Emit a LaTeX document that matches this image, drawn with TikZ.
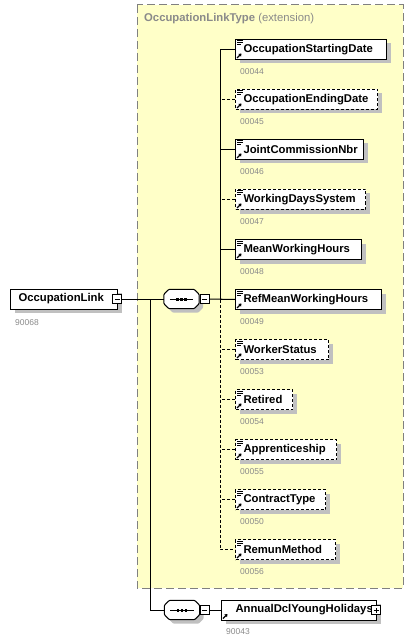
\documentclass[tikz,border=0pt]{standalone}
\usepackage{fontspec}
\setmainfont{Liberation Sans}
\usetikzlibrary{shadows,arrows.meta}

\definecolor{typeyellow}{HTML}{FFFFC8}
\definecolor{shadowgrey}{HTML}{C0C0C0}
\definecolor{idgrey}{HTML}{8A8A8A}

% small marks drawn inside the element boxes
\newcommand{\docmark}{%
  \draw[solid,line width=1pt]
    ([shift={(1.5pt,-1.5pt)}]path picture bounding box.north west) -- ++(6pt,0pt)
    ([shift={(1.5pt,-3.5pt)}]path picture bounding box.north west) -- ++(6pt,0pt)
    ([shift={(1.5pt,-5.5pt)}]path picture bounding box.north west) -- ++(4pt,0pt);}
\newcommand{\refmark}{%
  \draw[solid,line width=1.2pt,-{Triangle[length=2.5pt,width=3.5pt]}]
    ([shift={(1.5pt,1.5pt)}]path picture bounding box.south west) -- ++(4.5pt,4.5pt);}

% octagon of a sequence, drawn round an empty node (#2 shifts it, for the shadow)
\newcommand{\octpath}[2]{([shift={#2},xshift=5pt]#1.north west) -- ([shift={#2},xshift=-5pt]#1.north east)
  -- ([shift={#2},yshift=-5pt]#1.north east) -- ([shift={#2},yshift=5pt]#1.south east)
  -- ([shift={#2},xshift=-5pt]#1.south east) -- ([shift={#2},xshift=5pt]#1.south west)
  -- ([shift={#2},yshift=5pt]#1.south west) -- ([shift={#2},yshift=-5pt]#1.north west) -- cycle}
\newcommand{\seqmark}[1]{%
  \fill[shadowgrey, rounded corners=1pt] \octpath{#1}{(4pt,-4pt)};
  \filldraw[fill=white, line width=1pt, rounded corners=1pt] \octpath{#1}{(0pt,0pt)};
  \draw[line width=1pt] ([xshift=6pt]#1.west) -- ([xshift=-6pt]#1.east);
  \foreach \d in {-4,0,4}
    \fill ([xshift=\d pt-1.25pt, yshift=-1.5pt]#1.center) rectangle ++(2.5pt,3pt);}

\tikzset{
  elembox/.style={draw, fill=white, line width=1pt,
    general shadow={fill=shadowgrey, shadow xshift=4pt, shadow yshift=-4pt},
    minimum height=20pt, inner xsep=0pt, inner ysep=0pt, anchor=west,
    text width=#1, align=left, font=\fontsize{11.3}{13}\selectfont\bfseries,
    execute at begin node={\hspace*{8pt}}},
  elem/.style={elembox=#1, path picture={\docmark\refmark}},
  optelem/.style={elem=#1, dash pattern=on 3pt off 2pt},
  annelem/.style={elembox=#1, execute at begin node={\hspace*{6pt}}, path picture={\refmark}},
  idnum/.style={anchor=west, inner sep=0pt, text=idgrey, font=\fontsize{8.5}{10}\selectfont},
  seq/.style={minimum width=35pt, minimum height=19pt, inner sep=0pt},
  minusbox/.style={draw, fill=white, line width=1pt, minimum size=9pt, inner sep=0pt,
    path picture={\draw[line width=1pt] ([xshift=2pt]path picture bounding box.west)
      -- ([xshift=-2pt]path picture bounding box.east);}},
  plusbox/.style={minusbox, path picture={
      \draw[line width=1pt] ([xshift=2pt]path picture bounding box.west)
        -- ([xshift=-2pt]path picture bounding box.east)
        ([yshift=2pt]path picture bounding box.south) -- ([yshift=-2pt]path picture bounding box.north);}},
  link/.style={line width=1pt},
  optlink/.style={line width=1pt, dash pattern=on 3pt off 2pt},
  typebox/.style={draw=gray, fill=typeyellow, line width=1pt, dash pattern=on 8pt off 4pt}
}

\begin{document}
\begin{tikzpicture}[x=1pt,y=-1pt]

    \useasboundingbox (0,0) rectangle (417,644);

    \draw[typebox] (137,5) rectangle (403,588);
    \node[anchor=west, inner sep=0pt, text=idgrey, font=\fontsize{11.3}{13}\selectfont] (title) at (144,19)
      {\textbf{OccupationLinkType} (extension)};

    \node[elembox=107pt] (root) at (10,299) {OccupationLink};
    \node[idnum] (rootid) at (15,323) {90068};
    \node[minusbox] (roottog) at (117,299) {};

    \node[seq] (seqmain) at (181.5,299) {};
    \seqmark{seqmain}
    \node[minusbox] (seqmaintog) at (204.5,299) {};

    \node[elem=151pt] (e1) at (235,49.5) {OccupationStartingDate};
    \node[idnum] (e1id) at (240,72) {00044};
    \node[optelem=142pt] (e2) at (235,99.5) {OccupationEndingDate};
    \node[idnum] (e2id) at (240,122) {00045};
    \node[elem=128pt] (e3) at (235,149.5) {JointCommissionNbr};
    \node[idnum] (e3id) at (240,172) {00046};
    \node[optelem=130pt] (e4) at (235,199.5) {WorkingDaysSystem};
    \node[idnum] (e4id) at (240,222) {00047};
    \node[elem=126pt] (e5) at (235,249.5) {MeanWorkingHours};
    \node[idnum] (e5id) at (240,272) {00048};
    \node[elem=146pt] (e6) at (235,299.5) {RefMeanWorkingHours};
    \node[idnum] (e6id) at (240,322) {00049};
    \node[optelem=93pt] (e7) at (235,349.5) {WorkerStatus};
    \node[idnum] (e7id) at (240,372) {00053};
    \node[optelem=57pt] (e8) at (235,399.5) {Retired};
    \node[idnum] (e8id) at (240,422) {00054};
    \node[optelem=101pt] (e9) at (235,449.5) {Apprenticeship};
    \node[idnum] (e9id) at (240,472) {00055};
    \node[optelem=90pt] (e10) at (235,499.5) {ContractType};
    \node[idnum] (e10id) at (240,522) {00050};
    \node[optelem=100pt] (e11) at (235,549.5) {RemunMethod};
    \node[idnum] (e11id) at (240,572) {00056};

    \node[seq] (seqann) at (182,610) {};
    \seqmark{seqann}
    \node[minusbox] (seqanntog) at (204.5,610) {};
    \node[annelem=155pt] (ann) at (221,610) {AnnualDclYoungHolidays};
    \node[plusbox] (anntog) at (376,610) {};
    \node[idnum] (annid) at (226,632) {90043};

    \coordinate (fork) at (150,299);

    \draw[link] (roottog.east) -- (seqmain.west);
    \draw[link] (fork) |- (seqann.west);
    \draw[link] (seqmaintog.east) -- (e6.west);
    \draw[link] (seqanntog.east) -- (ann.west);

    \draw[link] (e1.west) -- ++(-15,0) |- (e6.west);
    \draw[optlink] ([xshift=-15pt]e6.west) |- (e11.west);
    \draw[optlink] (e2.west) -- ++(-15,0);
    \draw[link] (e3.west) -- ++(-15,0);
    \draw[optlink] (e4.west) -- ++(-15,0);
    \draw[link] (e5.west) -- ++(-15,0);
    \draw[optlink] (e7.west) -- ++(-15,0);
    \draw[optlink] (e8.west) -- ++(-15,0);
    \draw[optlink] (e9.west) -- ++(-15,0);
    \draw[optlink] (e10.west) -- ++(-15,0);

\end{tikzpicture}
\end{document}
